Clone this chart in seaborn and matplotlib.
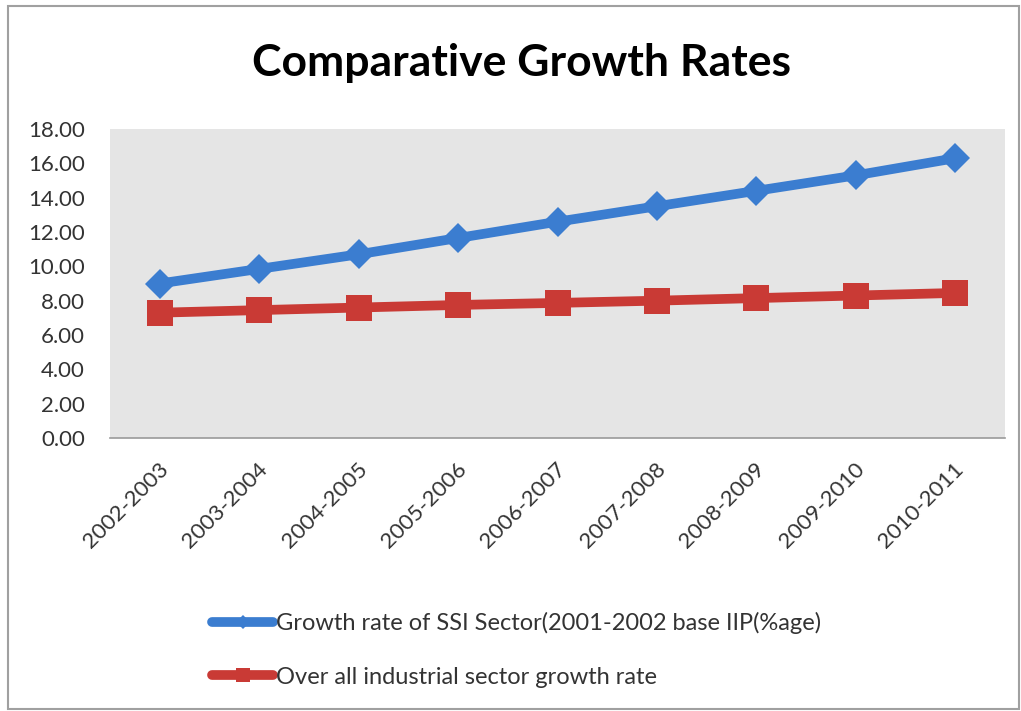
import matplotlib
matplotlib.use("Agg")
import matplotlib.pyplot as plt
from matplotlib.patches import Rectangle
from matplotlib.transforms import ScaledTranslation
import seaborn as sns
import pandas as pd

periods = ["2002-2003", "2003-2004", "2004-2005", "2005-2006", "2006-2007",
           "2007-2008", "2008-2009", "2009-2010", "2010-2011"]
ssi_growth = [9.0, 9.85, 10.7, 11.65, 12.6, 13.5, 14.4, 15.3, 16.3]
industrial_growth = [7.3, 7.45, 7.6, 7.75, 7.87, 8.0, 8.15, 8.3, 8.45]

ssi_label = "Growth rate of SSI Sector(2001-2002 base IIP(%age)"
ind_label = "Over all industrial sector growth rate"

df = pd.concat([
    pd.DataFrame({"period": periods, "rate": ssi_growth, "series": ssi_label}),
    pd.DataFrame({"period": periods, "rate": industrial_growth, "series": ind_label}),
], ignore_index=True)

sns.set_theme(style="white")
plt.rcParams["font.family"] = ["Lato", "DejaVu Sans"]

fig = plt.figure(figsize=(10.21, 7.11), dpi=100)
fig.patch.set_facecolor("white")
W, H = 1021, 711
ax = fig.add_axes([110 / W, 1 - 438 / H, (1005 - 110) / W, (438 - 129) / H])
ax.set_facecolor("#e5e5e5")

palette = {ssi_label: "#3b7dd0", ind_label: "#c93a35"}
markers = {ssi_label: "D", ind_label: "s"}

sns.lineplot(data=df, x="period", y="rate", hue="series", style="series",
             palette=palette, markers=markers, dashes=False, sort=False,
             linewidth=7, markersize=17, markeredgewidth=0, ax=ax, legend=True)

# diamond and square sized to look alike on the chart
for line in ax.get_lines():
    if line.get_marker() == "D":
        line.set_markersize(15)
    elif line.get_marker() == "s":
        line.set_markersize(19)

ax.set_xlim(-0.5, len(periods) - 0.5)
ax.set_ylim(0, 18)
ax.set_yticks(range(0, 19, 2))
ax.set_yticklabels([f"{v:.2f}" for v in range(0, 19, 2)])
ax.set_xlabel("")
ax.set_ylabel("")
ax.tick_params(axis="both", length=0, labelcolor="#333333")
ax.tick_params(axis="y", pad=18, labelsize=16)
ax.tick_params(axis="x", pad=20, labelsize=16)
shift = ScaledTranslation(4 / 72, 0, fig.dpi_scale_trans)
for lbl in ax.get_xticklabels():
    lbl.set_rotation(45)
    lbl.set_ha("right")
    lbl.set_va("center")
    lbl.set_rotation_mode("anchor")
    lbl.set_transform(lbl.get_transform() + shift)

for side in ["left", "right", "top"]:
    ax.spines[side].set_visible(False)
ax.spines["bottom"].set_color("#9a9a9a")
ax.spines["bottom"].set_linewidth(1.2)

handles, labels = ax.get_legend_handles_labels()
ax.get_legend().remove()
fig.legend(handles, labels, loc="upper left",
           bbox_to_anchor=(212 / W, 1 - 612 / H), frameon=False,
           fontsize=17, labelcolor="#333333", handlelength=2.6,
           handletextpad=0.12, labelspacing=1.38, markerscale=0.5,
           borderpad=0, borderaxespad=0)

fig.text(521 / W, 1 - 63 / H, "Comparative Growth Rates", ha="center",
         va="center", fontsize=32, fontweight="bold", color="black")

fig.patches.append(Rectangle((8 / W, 2 / H), (1019 - 8) / W, (705 - 2) / H,
                             transform=fig.transFigure, fill=False,
                             edgecolor="#a0a0a0", linewidth=1.5))

fig.savefig("out.png", dpi=100)
